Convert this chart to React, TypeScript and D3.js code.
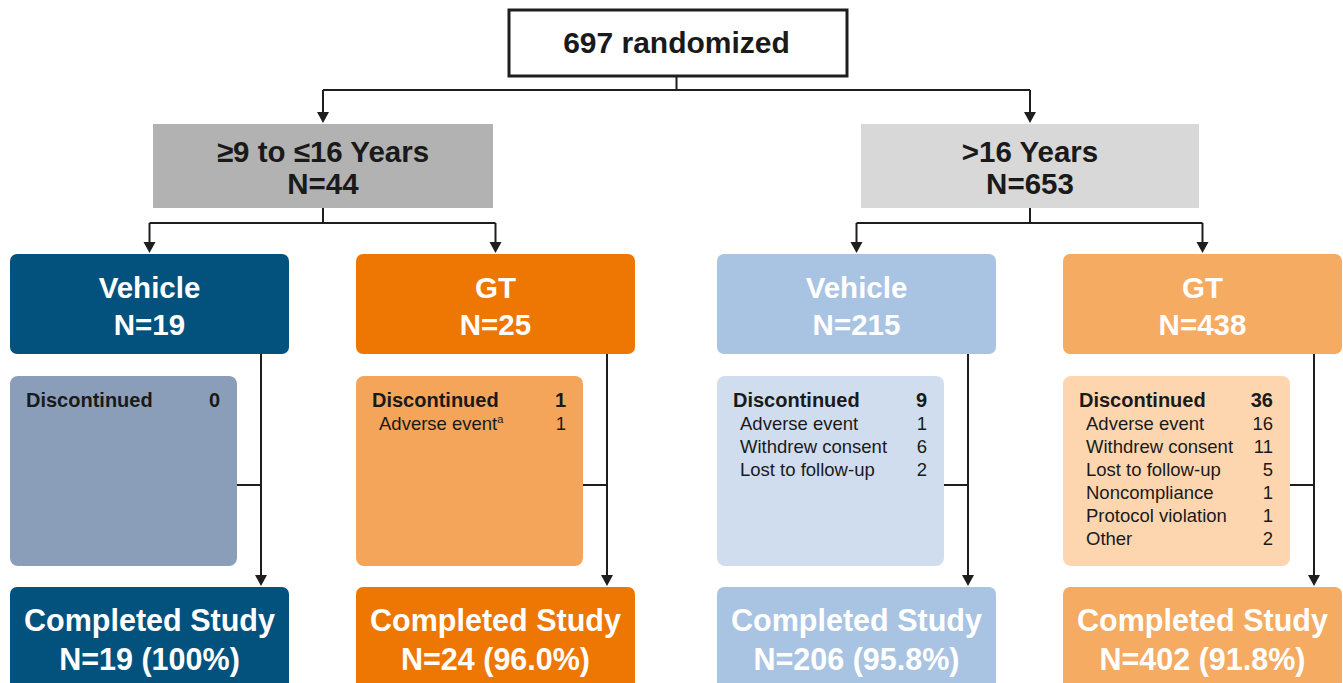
import * as d3 from "d3";

const W = 1343;
const H = 683;

const randomizedLabel = "697 randomized";
const ageGroups = ["≥9 to ≤16 Years", ">16 Years"];
const ageN = [44, 653];
const ageFill = ["#b2b2b2", "#d8d8d8"];

const armNames = ["Vehicle", "GT", "Vehicle", "GT"];
const armGroup = [0, 0, 1, 1];
const armN = [19, 25, 215, 438];
const armFill = ["#03527e", "#ee7703", "#a9c4e2", "#f5ab62"];
const discFill = ["#8b9eb9", "#f4a559", "#d0ddef", "#fdd6b0"];
const discTotal = [0, 1, 9, 36];
const discReasons = [
  [],
  ["Adverse event"],
  ["Adverse event", "Withdrew consent", "Lost to follow-up"],
  ["Adverse event", "Withdrew consent", "Lost to follow-up", "Noncompliance", "Protocol violation", "Other"],
];
const discCounts = [[], [1], [1, 6, 2], [16, 11, 5, 1, 1, 2]];
const footnoted = [[], [true], [false, false, false], [false, false, false, false, false, false]];
const completedN = [19, 24, 206, 402];
const completedPct = ["100%", "96.0%", "95.8%", "91.8%"];

const FONT = "'Liberation Sans', Arial, Helvetica, sans-serif";
const LINE = "#1e1e1e";

// layout scales
const groupX = d3.scaleOrdinal<number, number>().domain([0, 1]).range([323, 1030]);
const armOffset = d3.scaleOrdinal<number, number>().domain([0, 1]).range([-173, 173]);
const armCx = (i: number) => groupX(armGroup[i]) + armOffset(i % 2) - 0.5;
const y = {
  topBox: [10, 76],
  split1: 90,
  ageBox: [124, 208],
  split2: 223,
  armBox: [254, 354],
  discBox: [376, 566],
  compBox: [587, 705],
};
const armW = 279;
const ageW = 340;
const discW = 227;

const Arrow = ({ x, y: ty }: { x: number; y: number }) => (
  <path d={`M${x - 6},${ty - 11}L${x + 6},${ty - 11}L${x},${ty}Z`} fill={LINE} />
);

export default function App() {
  const topCx = (groupX(0) + groupX(1)) / 2;
  return (
    <svg width={W} height={H} style={{ position: "absolute", left: 0, top: 0, background: "#fff" }} fontFamily={FONT}>
      {/* top box */}
      <rect x={509} y={y.topBox[0]} width={338} height={y.topBox[1] - y.topBox[0]} fill="#fff" stroke={LINE} strokeWidth={3} />
      <text x={topCx} y={53} textAnchor="middle" fontSize={30} fontWeight="bold" fill="#1a1a1a">{randomizedLabel}</text>
      <path d={`M${topCx},${y.topBox[1]}V${y.split1}M${groupX(0)},${y.split1}H${groupX(1)}M${groupX(0)},${y.split1}V${y.ageBox[0] - 8}M${groupX(1)},${y.split1}V${y.ageBox[0] - 8}`} stroke={LINE} strokeWidth={2} fill="none" />
      {ageGroups.map((g, gi) => (
        <Arrow key={"a" + gi} x={groupX(gi)} y={y.ageBox[0] - 1} />
      ))}

      {/* age boxes */}
      {ageGroups.map((g, gi) => {
        const cx = groupX(gi);
        return (
          <g key={g}>
            <rect x={cx - ageW / 2 + gi} y={y.ageBox[0]} width={ageW - gi * 2} height={y.ageBox[1] - y.ageBox[0]} fill={ageFill[gi]} />
            <text x={cx} y={162} textAnchor="middle" fontSize={29.5} fontWeight="bold" fill="#1a1a1a">{g}</text>
            <text x={cx} y={194} textAnchor="middle" fontSize={29.5} fontWeight="bold" fill="#1a1a1a">N={ageN[gi]}</text>
            <path d={`M${cx},${y.ageBox[1]}V${y.split2}M${armCx(gi * 2)},${y.split2}H${armCx(gi * 2 + 1)}M${armCx(gi * 2)},${y.split2}V${y.armBox[0] - 8}M${armCx(gi * 2 + 1)},${y.split2}V${y.armBox[0] - 8}`} stroke={LINE} strokeWidth={2} fill="none" />
            <Arrow x={armCx(gi * 2)} y={y.armBox[0] - 1} />
            <Arrow x={armCx(gi * 2 + 1)} y={y.armBox[0] - 1} />
          </g>
        );
      })}

      {/* arms */}
      {armNames.map((name, i) => {
        const cx = armCx(i);
        const left = cx - armW / 2;
        const vx = left + armW - 28;
        const midY = 485;
        return (
          <g key={i}>
            <path d={`M${vx},${y.armBox[1]}V${y.compBox[0] - 8}M${left + discW},${midY}H${vx}`} stroke={LINE} strokeWidth={2} fill="none" />
            <Arrow x={vx} y={y.compBox[0] - 1} />
            <rect x={left} y={y.armBox[0]} width={armW} height={y.armBox[1] - y.armBox[0]} rx={7} fill={armFill[i]} />
            <text x={cx} y={298} textAnchor="middle" fontSize={29.5} fontWeight="bold" fill="#fff">{name}</text>
            <text x={cx} y={335} textAnchor="middle" fontSize={29.5} fontWeight="bold" fill="#fff">N={armN[i]}</text>

            <rect x={left} y={y.discBox[0]} width={discW} height={y.discBox[1] - y.discBox[0]} rx={8} fill={discFill[i]} />
            <text x={left + 16} y={407} fontSize={20} fontWeight="bold" fill="#1a1a1a">Discontinued</text>
            <text x={left + 210} y={407} textAnchor="end" fontSize={20} fontWeight="bold" fill="#1a1a1a">{discTotal[i]}</text>
            {discReasons[i].map((r, j) => (
              <g key={r}>
                <text x={left + 23} y={430 + j * 23} fontSize={18.5} fill="#1a1a1a">
                  {r}
                  {footnoted[i][j] && <tspan fontSize={11} dy={-7}>a</tspan>}
                </text>
                <text x={left + 210} y={430 + j * 23} textAnchor="end" fontSize={18.5} fill="#1a1a1a">{discCounts[i][j]}</text>
              </g>
            ))}

            <rect x={left} y={y.compBox[0]} width={armW} height={y.compBox[1] - y.compBox[0]} rx={7} fill={armFill[i]} />
            <text x={cx} y={631} textAnchor="middle" fontSize={30.5} fontWeight="bold" fill="#fff">Completed Study</text>
            <text x={cx} y={670} textAnchor="middle" fontSize={30.5} fontWeight="bold" fill="#fff">N={completedN[i]} ({completedPct[i]})</text>
          </g>
        );
      })}
    </svg>
  );
}
